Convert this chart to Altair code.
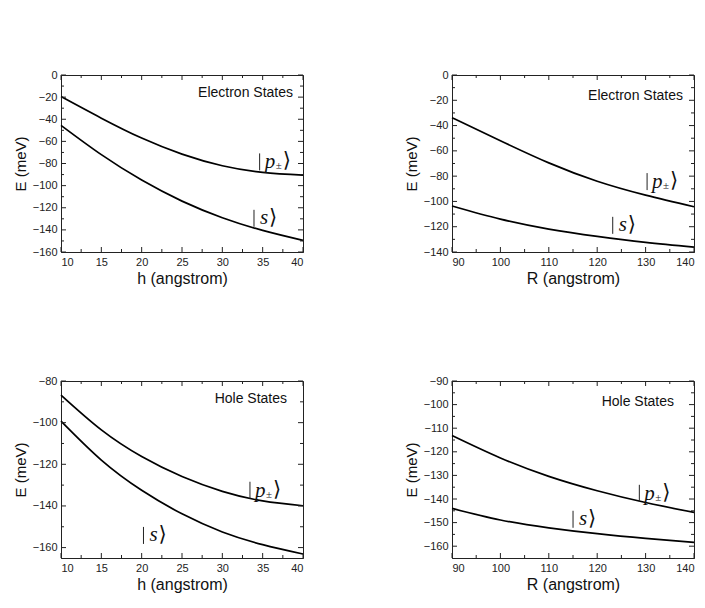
import altair as alt
import pandas as pd

# ---------------- data ----------------
h_vals = [10, 15, 20, 25, 30, 35, 40]
R_vals = [90, 100, 110, 120, 130, 140]

elec_h_p = [-19.5, -39, -57, -71.5, -82, -88, -90.5]
elec_h_s = [-45.5, -72, -95, -114, -129, -140.5, -149.5]
elec_R_p = [-33.8, -52, -69.5, -84, -95, -104.2]
elec_R_s = [-103.6, -114, -121.9, -127.7, -132.4, -136.1]
hole_h_p = [-86.8, -103.5, -116.3, -125.9, -133, -137.6, -139.9]
hole_h_s = [-99.3, -118, -132.5, -143.8, -152.5, -158.6, -163.1]
hole_R_p = [-113.1, -122.6, -130.4, -136.5, -141.5, -145.7]
hole_R_s = [-144.0, -148.9, -152.2, -154.7, -156.7, -158.4]

h_major = [10, 15, 20, 25, 30, 35, 40]
h_minor = [12.5, 17.5, 22.5, 27.5, 32.5, 37.5]
R_major = [90, 100, 110, 120, 130, 140]
R_minor = [95, 105, 115, 125, 135]
e1_major = [0, -20, -40, -60, -80, -100, -120, -140, -160]
e1_minor = [-10, -30, -50, -70, -90, -110, -130, -150]
e2_major = [0, -20, -40, -60, -80, -100, -120, -140]
e2_minor = [-10, -30, -50, -70, -90, -110, -130]
h3_major = [-80, -100, -120, -140, -160]
h3_minor = [-90, -110, -130, -150]
h4_major = [-90, -100, -110, -120, -130, -140, -150, -160]
h4_minor = [-95, -105, -115, -125, -135, -145, -155]

W, H = 242, 177
C = "#222222"
SANS = "Liberation Sans"
SERIF = "Liberation Serif"


def panel(xs, p, s, x_title, x_dom, y_dom, xmaj, xmin, ymaj, ymin,
          title, t_dx, t_dy, p_pos, s_pos):
    xsc = alt.Scale(domain=x_dom, nice=False, zero=False)
    ysc = alt.Scale(domain=y_dom, nice=False, zero=False)
    xax = alt.Axis(values=xmaj, format="d", title=x_title)
    yax = alt.Axis(values=ymaj, format="d", title="E (meV)")

    def X(f="x"):
        return alt.X(f + ":Q", scale=xsc, axis=xax)

    def Y(f="y"):
        return alt.Y(f + ":Q", scale=ysc, axis=yax)

    df = pd.DataFrame({
        "x": list(xs) * 2,
        "y": list(p) + list(s),
        "state": ["p"] * len(xs) + ["s"] * len(xs),
    })
    lines = alt.Chart(df).mark_line(color="black", strokeWidth=1.7,
                                    interpolate="natural").encode(
        x=X(), y=Y(), detail="state:N")
    layers = [lines]
    for vals, ln in ((xmaj, 5), (xmin, 3)):
        d = pd.DataFrame({"x": vals})
        base = alt.Chart(d).mark_rule(color=C, strokeWidth=1)
        layers.append(base.encode(x=X(), y=alt.value(H), y2=alt.value(H - ln)))
        layers.append(base.encode(x=X(), y=alt.value(0), y2=alt.value(ln)))
    for vals, ln in ((ymaj, 5), (ymin, 3)):
        d = pd.DataFrame({"y": vals})
        base = alt.Chart(d).mark_rule(color=C, strokeWidth=1)
        layers.append(base.encode(y=Y(), x=alt.value(0), x2=alt.value(ln)))
        layers.append(base.encode(y=Y(), x=alt.value(W), x2=alt.value(W - ln)))
    layers.append(alt.Chart(pd.DataFrame({"t": [title]})).mark_text(
        align="right", baseline="middle", font=SANS, fontSize=14
    ).encode(text="t:N", x=alt.value(W - t_dx), y=alt.value(t_dy),
             color=alt.value("#111")))

    pdf = pd.DataFrame({"x": [p_pos[0]], "y": [p_pos[1]]})
    sdf = pd.DataFrame({"x": [s_pos[0]], "y": [s_pos[1]]})

    def lab(d, txt, dx, dy, font, size, style="normal"):
        return alt.Chart(d).mark_text(
            align="left", baseline="middle", font=font, fontSize=size,
            fontStyle=style, dx=dx, dy=dy
        ).encode(x=X(), y=Y(), text=alt.value(txt), color=alt.value("#111"))

    def bar(d):
        return alt.Chart(d).mark_rule(
            color="#222", strokeWidth=1, xOffset=1, yOffset=-9, y2Offset=8
        ).encode(x=X(), y=Y(), y2="y:Q")

    layers += [
        bar(pdf),
        lab(pdf, "p", 6, 0, SERIF, 21, "italic"),
        lab(pdf, "±", 17, 4, SERIF, 11),
        lab(pdf, "⟩", 24, -1, "DejaVu Serif", 21),
        bar(sdf),
        lab(sdf, "s", 7, -1, SERIF, 21, "italic"),
        lab(sdf, "⟩", 16, -1, "DejaVu Serif", 21),
    ]
    return alt.layer(*layers).properties(width=W, height=H)


p1 = panel(h_vals, elec_h_p, elec_h_s, "h (angstrom)", [10, 40], [-160, 0],
           h_major, h_minor, e1_major, e1_minor, "Electron States", 10, 18,
           (34.5, -79), (33.8, -130))
p2 = panel(R_vals, elec_R_p, elec_R_s, "R (angstrom)", [90, 140], [-140, 0],
           R_major, R_minor, e2_major, e2_minor, "Electron States", 11, 21,
           (130.1, -84.7), (123.0, -119.3))
p3 = panel(h_vals, hole_h_p, hole_h_s, "h (angstrom)", [10, 40], [-165, -80],
           h_major, h_minor, h3_major, h3_minor, "Hole States", 16, 18,
           (33.3, -132.7), (20.1, -154.4))
p4 = panel(R_vals, hole_R_p, hole_R_s, "R (angstrom)", [90, 140], [-165, -90],
           R_major, R_minor, h4_major, h4_minor, "Hole States", 20, 21,
           (128.5, -137.8), (114.8, -148.8))

chart = alt.vconcat(
    alt.hconcat(p1, p2, spacing=96),
    alt.hconcat(p3, p4, spacing=96),
    spacing=87,
).properties(
    padding={"left": 12, "top": 68, "right": 5, "bottom": 5},
    background="white",
).configure_view(
    stroke=C, strokeWidth=1
).configure_axis(
    ticks=False, grid=False, domainColor=C, domainWidth=1,
    labelFont=SANS, labelFontSize=11, labelColor="#222",
    titleFont=SANS, titleFontWeight="normal", titleColor="#111",
    labelPadding=4,
).configure_axisX(
    titleFontSize=16, titlePadding=3
).configure_axisY(
    titleFontSize=15, titlePadding=4
)

chart.save("out.html", embed_options={"renderer": "svg", "actions": False})
